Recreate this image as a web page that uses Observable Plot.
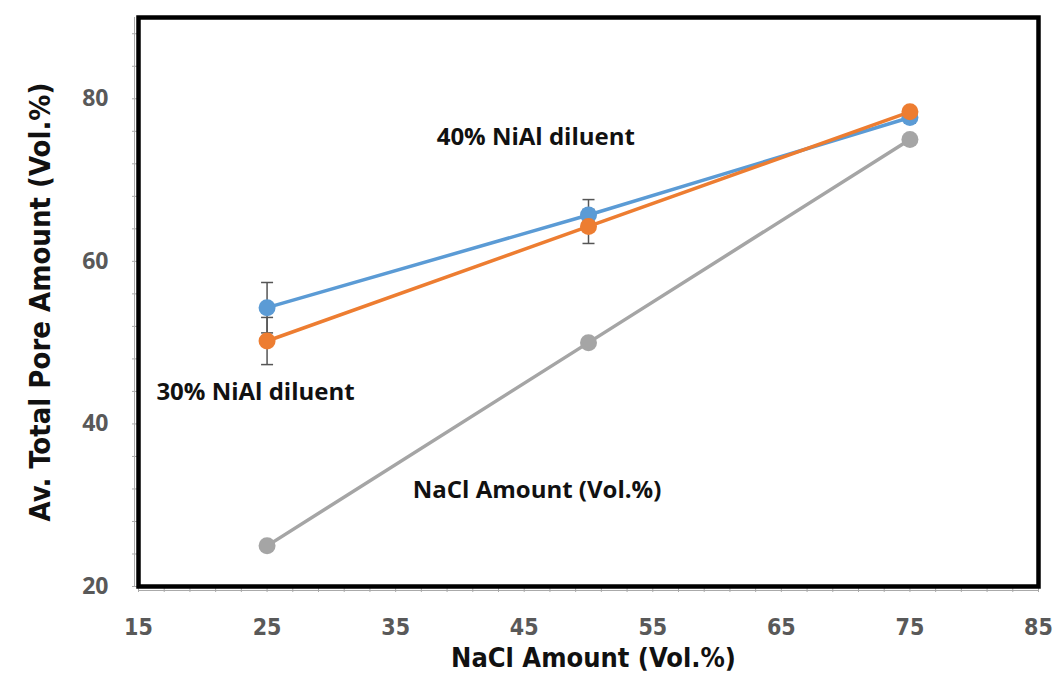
<!DOCTYPE html>
<html>
<head>
<meta charset="utf-8">
<script src="https://cdn.jsdelivr.net/npm/d3@7"></script>
<script src="https://cdn.jsdelivr.net/npm/@observablehq/plot@0.6"></script>
<style>
body { margin: 0; background: #fff; }
#chart { width: 1056px; height: 684px; }
</style>
</head>
<body>
<div id="chart"></div>
<script>
const nacl = [25, 50, 75];
const pore40 = [54.3, 65.7, 77.7];
const err40 = [3.1, 1.9, 0.7];
const pore30 = [50.2, 64.3, 78.4];
const err30 = [2.9, 2.1, 0.5];
const poreNaCl = [25, 50, 75];

const xMajor = [15, 25, 35, 45, 55, 65, 75, 85];
const xMinor = d3.range(15, 86, 2);
const yMajor = [20, 40, 60, 80];
const yMinor = d3.range(20, 91, 4);

const labels = [
  {x: 45.9, y: 75.2, text: "40% NiAl diluent"},
  {x: 24.1, y: 43.9, text: "30% NiAl diluent"},
  {x: 46.0, y: 31.8, text: "NaCl Amount (Vol.%)"}
];

const rows = (ys, es, s) => nacl.map((x, i) => ({x, y: ys[i], e: es ? es[i] : 0, s}));
const s40 = rows(pore40, err40, "40");
const s30 = rows(pore30, err30, "30");
const sN = rows(poreNaCl, null, "N");
const errs = [...s40, ...s30];
const caps = errs.flatMap(d => [{x: d.x, y: d.y + d.e}, {x: d.x, y: d.y - d.e}]);

const capSymbol = {draw(ctx, size) { const r = Math.sqrt(size / Math.PI); ctx.moveTo(-r, 0); ctx.lineTo(r, 0); }};

const font = "Open Sans, sans-serif";
const cond = "DejaVu Sans Condensed, sans-serif";
const gray = "#595959";

const chart = Plot.plot({
  width: 1056,
  height: 684,
  marginLeft: 138,
  marginRight: 18,
  marginTop: 17,
  marginBottom: 98,
  style: {fontFamily: font, background: "#fff"},
  x: {type: "linear", domain: [15, 85]},
  y: {type: "linear", domain: [20, 90]},
  marks: [
    Plot.axisX({ticks: xMinor, tickSize: 6, text: null, stroke: "#aaa", label: null}),
    Plot.axisX({ticks: xMajor, tickSize: 0, tickPadding: 32, fontSize: 23, fontWeight: "bold", fill: gray, label: null, fontFamily: cond}),
    Plot.axisY({ticks: yMinor, tickSize: 6, text: null, stroke: "#aaa", label: null}),
    Plot.axisY({ticks: yMajor, tickSize: 0, tickPadding: 30, fontSize: 23, fontWeight: "bold", fill: gray, label: null}),
    Plot.ruleX([15], {stroke: "#aaa", strokeWidth: 1, dx: -4}),
    Plot.ruleY([20], {stroke: "#aaa", strokeWidth: 1, dy: 4}),
    Plot.frame({stroke: "#000", strokeWidth: 4.5}),
    Plot.ruleX(errs, {x: "x", y1: d => d.y - d.e, y2: d => d.y + d.e, stroke: "#555", strokeWidth: 1.5}),
    Plot.dot(caps, {x: "x", y: "y", symbol: capSymbol, r: 6, stroke: "#555", strokeWidth: 1.5, fill: "none"}),
    Plot.line(sN, {x: "x", y: "y", stroke: "#a5a5a5", strokeWidth: 3.5}),
    Plot.dot(sN, {x: "x", y: "y", r: 8.5, fill: "#a5a5a5"}),
    Plot.line(s40, {x: "x", y: "y", stroke: "#5b9bd5", strokeWidth: 3.5}),
    Plot.dot(s40, {x: "x", y: "y", r: 8.5, fill: "#5b9bd5"}),
    Plot.line(s30, {x: "x", y: "y", stroke: "#ed7d31", strokeWidth: 3.5}),
    Plot.dot(s30, {x: "x", y: "y", r: 8.5, fill: "#ed7d31"}),
    Plot.text(labels, {x: "x", y: "y", text: "text", fontSize: 24, fontWeight: "bold", fill: "#111", fontFamily: font}),
    Plot.text(["NaCl Amount (Vol.%)"], {frameAnchor: "bottom", dy: 80, dx: 5, fontSize: 27, fontWeight: "bold", fill: "#111", fontFamily: cond}),
    Plot.text(["Av. Total Pore Amount (Vol.%)"], {frameAnchor: "left", textAnchor: "middle", dx: -98, rotate: -90, fontSize: 29, fontWeight: "bold", fill: "#111", fontFamily: cond})
  ]
});
document.getElementById("chart").appendChild(chart);
</script>
</body>
</html>
